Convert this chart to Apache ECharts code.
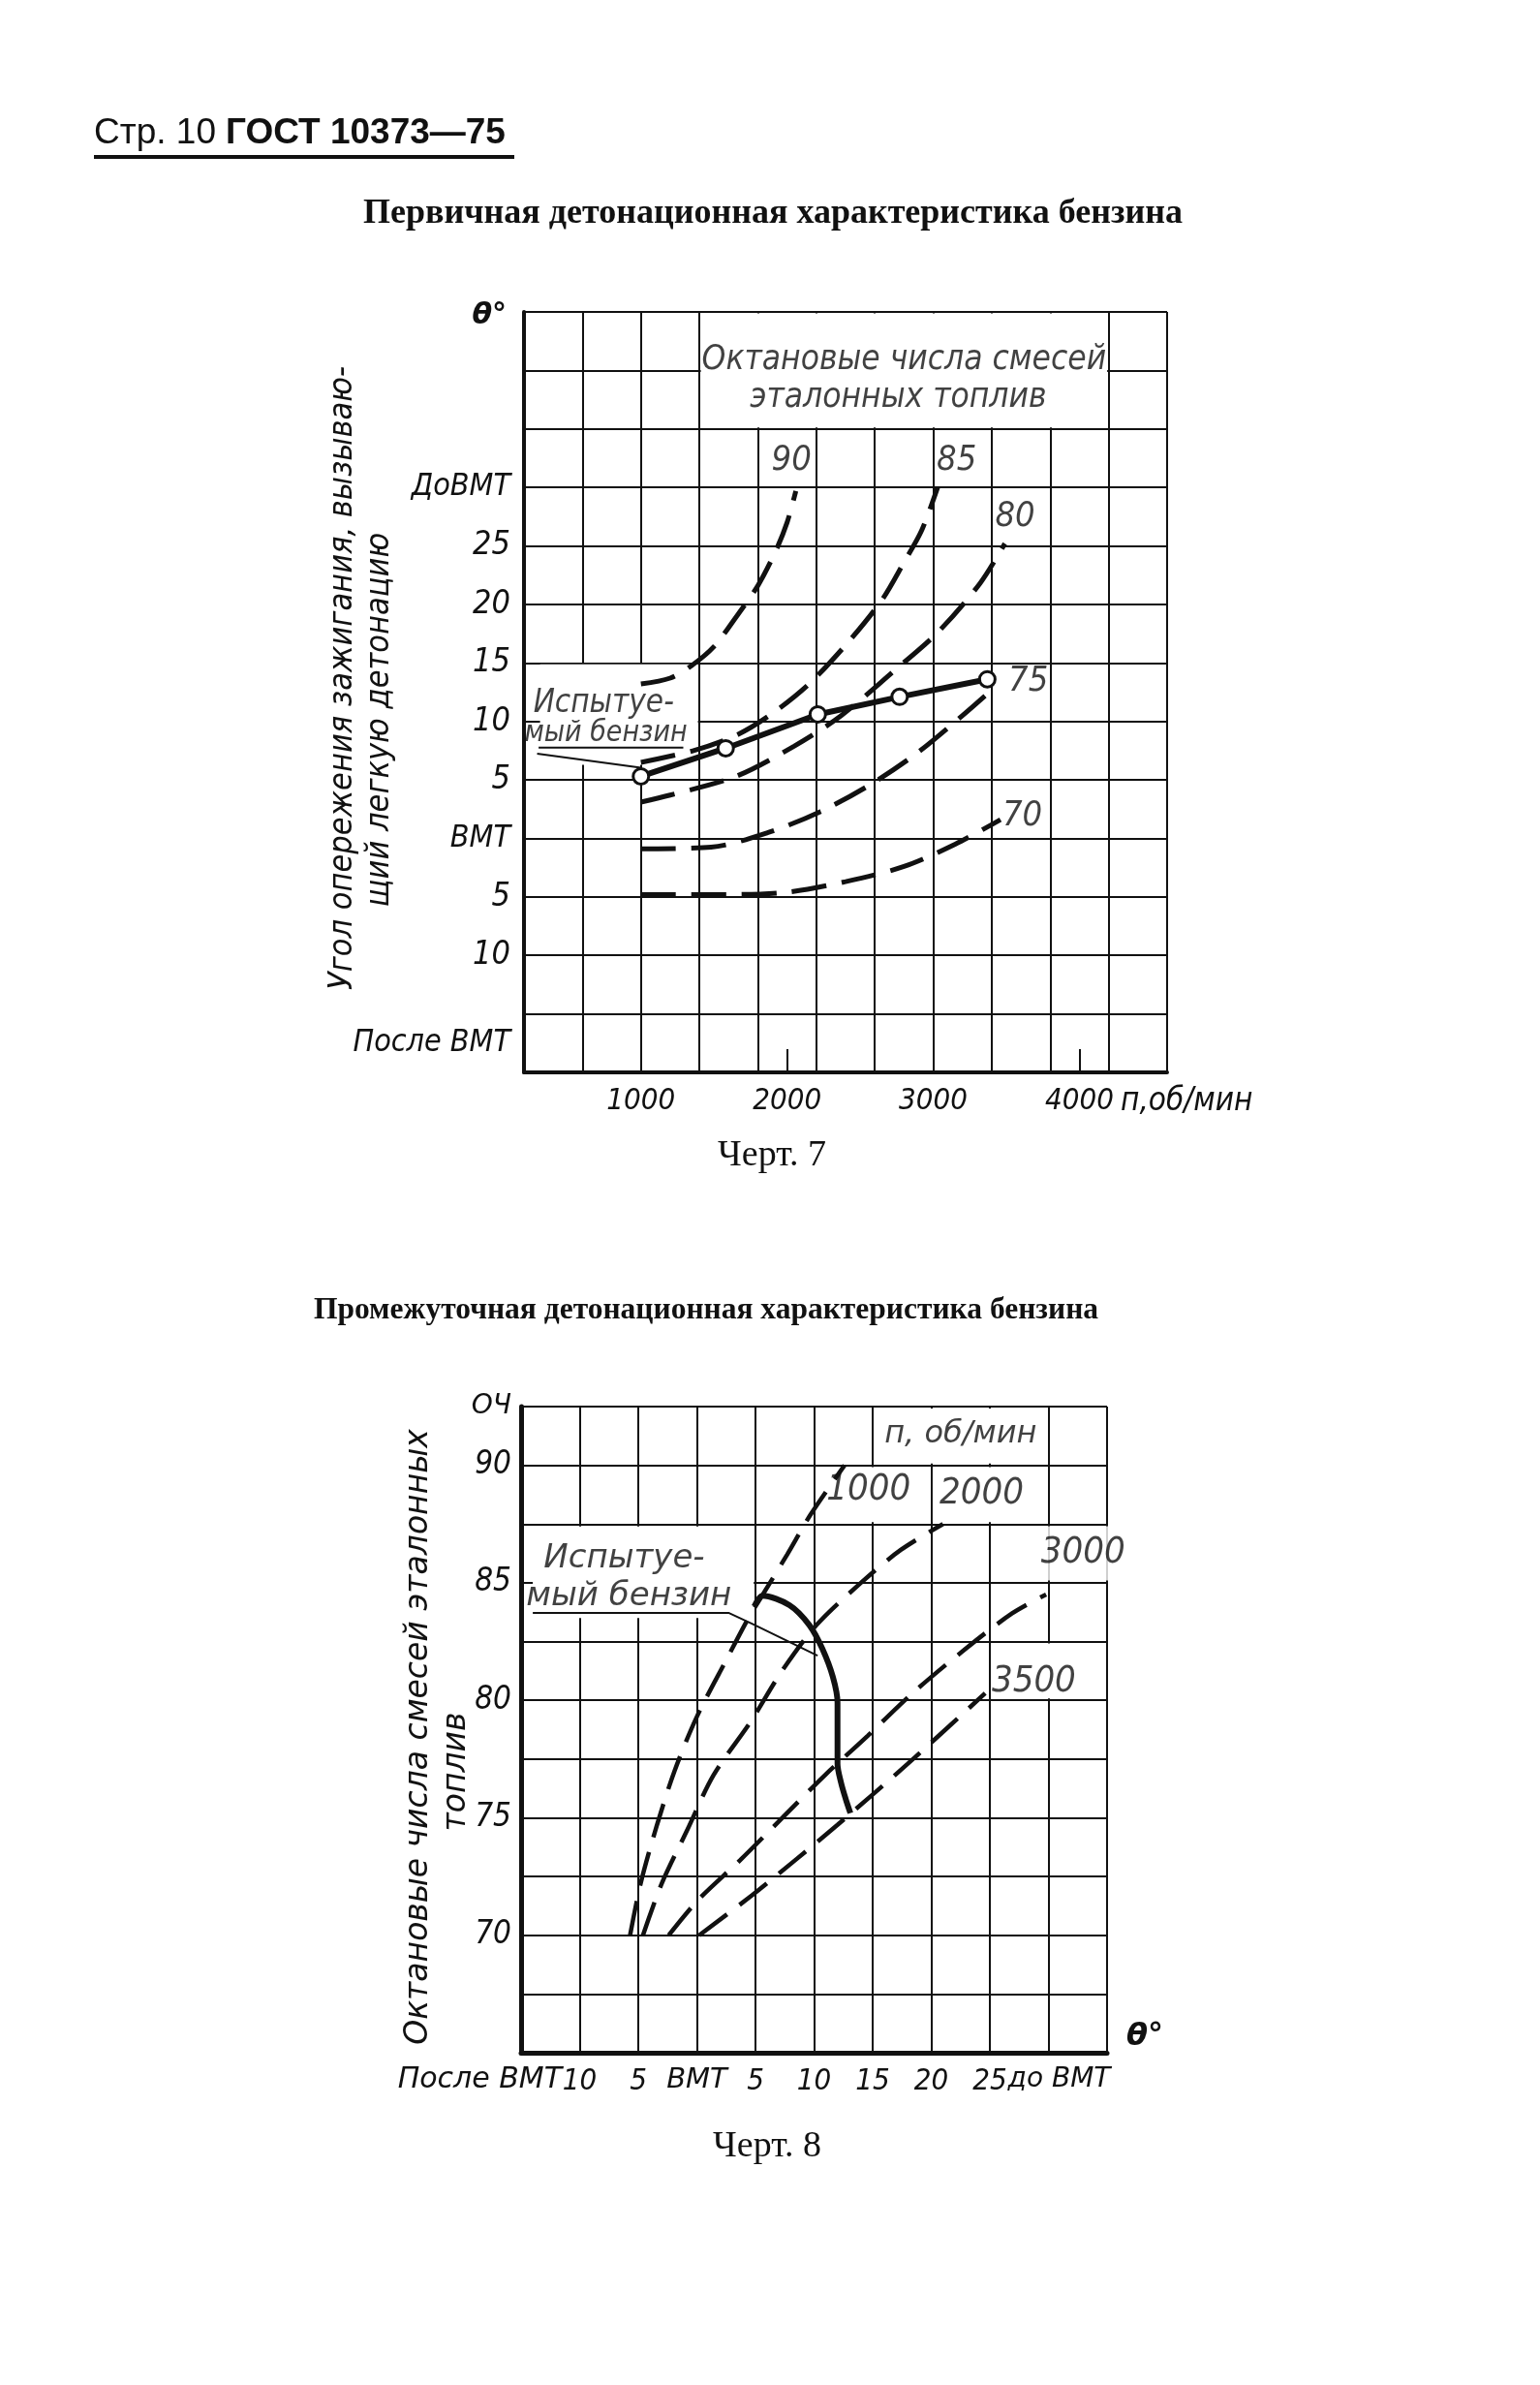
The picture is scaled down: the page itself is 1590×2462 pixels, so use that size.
<!DOCTYPE html>
<html>
<head>
<meta charset="utf-8">
<script src="https://cdn.jsdelivr.net/npm/echarts@6/dist/echarts.min.js"></script>
<style>html,body{margin:0;padding:0;background:#fff}#c{width:1590px;height:2462px}</style>
</head>
<body>
<div id="c"></div>
<script>
// ===== Черт. 7 — первичная детонационная характеристика =====
const c7XTickValues = [1000, 2000, 3000, 4000];
const c7XTickMarks = [2000, 4000];
const c7YTickValues = [30, 25, 20, 15, 10, 5, 0, -5, -10, -17.5];
const c7YTickTexts = ['ДоВМТ', '25', '20', '15', '10', '5', 'ВМТ', '5', '10', 'После ВМТ'];
const c7Oct90Rpm = [1000, 1200, 1350, 1500, 1650, 1800, 1920, 2000, 2060];
const c7Oct90Deg = [13.2, 13.7, 14.8, 16.4, 18.9, 21.6, 24.5, 27.0, 29.7];
const c7Oct85Rpm = [1000, 1360, 1650, 1890, 2150, 2420, 2650, 2800, 2920, 3030];
const c7Oct85Deg = [6.5, 7.5, 8.8, 10.6, 13.2, 16.8, 20.4, 23.6, 26.3, 30.0];
const c7Oct80Rpm = [1000, 1200, 1650, 2050, 2370, 2730, 3030, 3320, 3490];
const c7Oct80Deg = [3.1, 3.7, 5.3, 7.9, 10.5, 14.3, 17.6, 21.8, 25.2];
const c7Oct75Rpm = [1000, 1480, 1870, 2230, 2570, 2890, 3200, 3410];
const c7Oct75Deg = [-0.9, -0.75, 0.5, 2.3, 4.6, 7.3, 10.5, 12.8];
const c7Oct70Rpm = [1000, 1600, 2000, 2400, 2800, 3150, 3460];
const c7Oct70Deg = [-4.8, -4.8, -4.6, -3.7, -2.4, -0.5, 1.6];
const c7TestRpm = [1000, 1580, 2210, 2770, 3370];
const c7TestDeg = [5.3, 7.7, 10.6, 12.1, 13.6];

// ===== Черт. 8 — промежуточная детонационная характеристика =====
const c8XTickValues = [-10, -5, 0, 5, 10, 15, 20, 25, 30];
const c8XTickTexts = ['10', '5', 'ВМТ', '5', '10', '15', '20', '25', 'до ВМТ'];
const c8YTickValues = [92.5, 90, 85, 80, 75, 70];
const c8YTickTexts = ['ОЧ', '90', '85', '80', '75', '70'];
const c8N1000Deg = [-5.7, -4.8, -3.4, -1.9, 0, 2.6, 4.4, 5.5, 7.7, 9.7, 12.6];
const c8N1000Oct = [70, 72.2, 74.7, 77.0, 79.3, 81.8, 83.5, 84.4, 86.2, 87.9, 90];
const c8N2000Deg = [-4.6, -3.0, -0.8, 1.4, 4.6, 7.2, 10.2, 14.0, 17.4, 21.0];
const c8N2000Oct = [70, 72.2, 74.5, 76.8, 79.1, 81.2, 83.2, 85.0, 86.4, 87.5];
const c8N3000Deg = [-2.4, 0.1, 3.7, 7.3, 10.9, 14.6, 18.4, 22.7, 26.9, 29.8];
const c8N3000Oct = [70, 71.5, 73.2, 75.0, 76.8, 78.5, 80.3, 82.1, 83.7, 84.5];
const c8N3500Deg = [0.2, 4.7, 8.4, 12.0, 18.0, 24.6];
const c8N3500Oct = [70, 71.7, 73.2, 74.7, 77.3, 80.3];
const c8TestDeg = [4.9, 5.6, 7.9, 9.6, 10.7, 11.6, 12.0, 12.0, 12.0, 12.3, 12.7, 13.1];
const c8TestOct = [84.0, 84.45, 84.05, 83.2, 82.2, 81.0, 79.9, 78.5, 77.3, 76.5, 75.8, 75.2];

// ---------- styles ----------
const FN = '"Liberation Sans Narrow", "DejaVu Sans Condensed", sans-serif';
const FC = '"DejaVu Sans Condensed", "DejaVu Sans", sans-serif';
const FW = '"DejaVu Sans", sans-serif';
const INK = '#111';

const zip = (xs, ys) => xs.map((x, i) => [x, ys[i]]);

function dashed(name, xi, yi, xs, ys, w) {
  return {
    name, type: 'line', xAxisIndex: xi, yAxisIndex: yi,
    data: zip(xs, ys), smooth: 0.3, symbol: 'none', silent: true, z: 3,
    lineStyle: { color: INK, width: w, type: [36, 16], cap: 'butt' }
  };
}
function thin(xi, yi, pts) {
  return {
    type: 'line', xAxisIndex: xi, yAxisIndex: yi, data: pts, symbol: 'none', silent: true, z: 4,
    lineStyle: { color: INK, width: 2 }
  };
}
function lbl(name, x, y, family, size, extra) {
  return {
    name, value: [x, y],
    label: Object.assign({ show: true, position: 'inside', formatter: '{b}', color: INK,
      fontFamily: family, fontStyle: 'italic', fontSize: size }, extra || {})
  };
}
function area(x1, y1, x2, y2) {
  return [{ coord: [x1, y1] }, { coord: [x2, y2] }];
}
function richTick(text) {
  if (/^\d+$/.test(text)) return '{d|' + text + '}';
  if (text.indexOf('до') === 0) return '{e|' + text + '}';
  return '{w|' + text + '}';
}

const chart = echarts.init(document.getElementById('c'), null, { renderer: 'canvas' });

const option = {
  backgroundColor: '#fff',
  animation: false,
  grid: [
    { left: 541, top: 322, width: 664, height: 785 },
    { left: 538, top: 1452, width: 605, height: 667 }
  ],
  xAxis: [
    { // 0: Черт. 7 main
      gridIndex: 0, type: 'value', min: 200, max: 4600, interval: 400,
      axisLine: { show: true, onZero: false, lineStyle: { color: INK, width: 4 } },
      axisTick: { show: false },
      splitLine: { show: true, lineStyle: { color: INK, width: 2 } },
      axisLabel: { customValues: c7XTickValues, formatter: v => String(v), hideOverlap: false,
        color: INK, fontFamily: FN, fontStyle: 'italic', fontSize: 31, margin: 14 }
    },
    { // 1: Черт. 7 ticks + unit name
      gridIndex: 0, type: 'value', min: 200, max: 4600, position: 'bottom',
      axisLine: { show: false, onZero: false }, splitLine: { show: false }, axisLabel: { show: false },
      axisTick: { show: true, inside: true, length: 24, customValues: c7XTickMarks, lineStyle: { color: INK, width: 2 } },
      name: 'п,об/мин', nameLocation: 'end', nameGap: -48,
      nameTextStyle: { color: INK, fontFamily: FC, fontStyle: 'italic', fontSize: 33, align: 'left', verticalAlign: 'top', padding: [14, 0, 0, 0] }
    },
    { // 2: Черт. 8 main
      gridIndex: 1, type: 'value', min: -15, max: 35, interval: 5,
      axisLine: { show: true, onZero: false, lineStyle: { color: INK, width: 5 } },
      axisTick: { show: false },
      splitLine: { show: true, lineStyle: { color: INK, width: 2 } },
      axisLabel: {
        customValues: c8XTickValues, margin: 14, hideOverlap: false,
        formatter: v => richTick(c8XTickTexts[c8XTickValues.indexOf(v)]),
        rich: {
          d: { fontFamily: FN, fontStyle: 'italic', fontSize: 31, color: INK },
          w: { fontFamily: FW, fontStyle: 'italic', fontSize: 29, color: INK },
          e: { fontFamily: FW, fontStyle: 'italic', fontSize: 28, color: INK, padding: [0, 0, 0, 22] }
        }
      },
      name: 'θ°', nameLocation: 'end', nameGap: 20,
      nameTextStyle: { color: INK, fontFamily: FW, fontStyle: 'italic', fontWeight: 'bold', fontSize: 32, align: 'left', verticalAlign: 'bottom' }
    },
    { // 3: Черт. 8 left name
      gridIndex: 1, type: 'value', min: -15, max: 35, position: 'bottom',
      axisLine: { show: false, onZero: false }, splitLine: { show: false }, axisLabel: { show: false }, axisTick: { show: false },
      name: 'После ВМТ', nameLocation: 'start', nameGap: -42,
      nameTextStyle: { color: INK, fontFamily: FW, fontStyle: 'italic', fontSize: 30, align: 'right', verticalAlign: 'top', padding: [13, 0, 0, 0] }
    }
  ],
  yAxis: [
    { // 0: Черт. 7
      gridIndex: 0, type: 'value', min: -20, max: 45, interval: 5,
      axisLine: { show: true, onZero: false, lineStyle: { color: INK, width: 4 } },
      axisTick: { show: false },
      splitLine: { show: true, lineStyle: { color: INK, width: 2 } },
      axisLabel: {
        customValues: c7YTickValues, margin: 14, hideOverlap: false,
        formatter: v => richTick(c7YTickTexts[c7YTickValues.indexOf(v)]),
        rich: {
          d: { fontFamily: FN, fontStyle: 'italic', fontSize: 34, color: INK },
          w: { fontFamily: FC, fontStyle: 'italic', fontSize: 32, color: INK }
        }
      },
      name: 'θ°', nameLocation: 'end', nameGap: -4,
      nameTextStyle: { color: INK, fontFamily: FW, fontStyle: 'italic', fontWeight: 'bold', fontSize: 30, align: 'right', verticalAlign: 'middle', padding: [0, 18, 0, 0] }
    },
    { // 1: Черт. 8
      gridIndex: 1, type: 'value', min: 65, max: 92.5, interval: 2.5,
      axisLine: { show: true, onZero: false, lineStyle: { color: INK, width: 5 } },
      axisTick: { show: false },
      splitLine: { show: true, lineStyle: { color: INK, width: 2 } },
      axisLabel: {
        customValues: c8YTickValues, margin: 10, hideOverlap: false,
        formatter: v => richTick(c8YTickTexts[c8YTickValues.indexOf(v)]),
        rich: {
          d: { fontFamily: FN, fontStyle: 'italic', fontSize: 33, color: INK },
          w: { fontFamily: FW, fontStyle: 'italic', fontSize: 28, color: INK }
        }
      }
    }
  ],
  series: [
    { // Черт. 7 annotations + white boxes
      type: 'scatter', xAxisIndex: 0, yAxisIndex: 0, symbolSize: 0, silent: true, clip: false, z: 2,
      data: [
        lbl('Октановые числа смесей', 2800, 40.9, FC, 35),
        lbl('эталонных топлив', 2760, 37.6, FC, 35),
        lbl('90', 2030, 32.3, FN, 36),
        lbl('85', 3160, 32.3, FN, 36),
        lbl('80', 3560, 27.5, FN, 36),
        lbl('75', 3650, 13.4, FN, 36),
        lbl('70', 3610, 1.9, FN, 36),
        lbl('Испытуе-', 745, 11.5, FC, 33),
        lbl('мый бензин', 760, 8.95, FC, 30)
      ],
      markArea: {
        silent: true, label: { show: false },
        itemStyle: { color: '#fff', opacity: 1, borderWidth: 0 },
        data: [area(1410, 35.12, 4190, 44.88), area(310, 6.3, 1390, 14.88)]
      }
    },
    { // Черт. 8 annotations + white boxes
      type: 'scatter', xAxisIndex: 2, yAxisIndex: 1, symbolSize: 0, silent: true, clip: false, z: 2,
      data: [
        lbl('п, об/мин', 22.5, 91.3, FW, 32),
        lbl('1000', 14.65, 88.95, FN, 38),
        lbl('2000', 24.3, 88.8, FN, 38),
        lbl('3000', 32.95, 86.25, FN, 38, { backgroundColor: '#fff', lineHeight: 56, padding: [0, 2, 0, 2] }),
        lbl('3500', 28.75, 80.8, FN, 38),
        lbl('Испытуе-', -6.2, 86.0, FW, 34),
        lbl('мый бензин', -5.8, 84.4, FW, 34)
      ],
      markArea: {
        silent: true, label: { show: false },
        itemStyle: { color: '#fff', opacity: 1, borderWidth: 0 },
        data: [
          area(-14.0, 83.5, 4.85, 87.4),
          area(15.12, 90.08, 29.88, 92.42),
          area(10.12, 87.58, 19.88, 89.92),
          area(20.12, 87.58, 29.88, 89.92),
          area(25.12, 80.08, 34.88, 82.42)
        ]
      }
    },
    dashed('90', 0, 0, c7Oct90Rpm, c7Oct90Deg, 5),
    dashed('85', 0, 0, c7Oct85Rpm, c7Oct85Deg, 5),
    dashed('80', 0, 0, c7Oct80Rpm, c7Oct80Deg, 5),
    dashed('75', 0, 0, c7Oct75Rpm, c7Oct75Deg, 5),
    dashed('70', 0, 0, c7Oct70Rpm, c7Oct70Deg, 5),
    thin(0, 0, [[300, 7.75], [1290, 7.75]]),
    thin(0, 0, [[290, 7.25], [1000, 6.05]]),
    {
      name: 'Испытуемый бензин', type: 'line', xAxisIndex: 0, yAxisIndex: 0,
      data: zip(c7TestRpm, c7TestDeg), symbol: 'circle', symbolSize: 16, showSymbol: true, silent: true, z: 5,
      lineStyle: { color: INK, width: 6 },
      itemStyle: { color: '#fff', borderColor: INK, borderWidth: 3 }
    },
    dashed('1000', 2, 1, c8N1000Deg, c8N1000Oct, 4.5),
    dashed('2000', 2, 1, c8N2000Deg, c8N2000Oct, 4.5),
    dashed('3000', 2, 1, c8N3000Deg, c8N3000Oct, 4.5),
    dashed('3500', 2, 1, c8N3500Deg, c8N3500Oct, 4.5),
    thin(2, 1, [[-14.0, 83.72], [2.7, 83.72], [4.7, 83.26], [10.3, 81.9]]),
    {
      name: 'Испытуемый бензин (ОЧ)', type: 'line', xAxisIndex: 2, yAxisIndex: 1,
      data: zip(c8TestDeg, c8TestOct), smooth: 0.3, symbol: 'none', silent: true, z: 5,
      lineStyle: { color: INK, width: 6 }
    }
  ],
  graphic: [
    { type: 'text', x: 97, y: 138, style: {
        text: '{a|Стр. 10}   {b|ГОСТ 10373—75}', verticalAlign: 'middle', fill: INK,
        rich: {
          a: { fontFamily: '"Liberation Sans", sans-serif', fontSize: 37, fill: INK },
          b: { fontFamily: '"Liberation Sans", sans-serif', fontWeight: 'bold', fontSize: 37, fill: INK }
        } } },
    { type: 'rect', shape: { x: 97, y: 160, width: 434, height: 4 }, style: { fill: INK } },
    { type: 'text', x: 798, y: 221, style: { text: 'Первичная детонационная характеристика бензина',
        font: 'bold 36px "Liberation Serif", serif', align: 'center', verticalAlign: 'middle', fill: INK } },
    { type: 'text', x: 797, y: 1193, style: { text: 'Черт. 7',
        font: '38px "Liberation Serif", serif', align: 'center', verticalAlign: 'middle', fill: INK } },
    { type: 'text', x: 729, y: 1353, style: { text: 'Промежуточная детонационная характеристика бензина',
        font: 'bold 31.5px "Liberation Serif", serif', align: 'center', verticalAlign: 'middle', fill: INK } },
    { type: 'text', x: 792, y: 2216, style: { text: 'Черт. 8',
        font: '38px "Liberation Serif", serif', align: 'center', verticalAlign: 'middle', fill: INK } },
    { type: 'text', x: 354, y: 700, rotation: Math.PI / 2, style: { text: 'Угол опережения зажигания, вызываю-',
        font: 'italic 34px "DejaVu Sans Condensed", "DejaVu Sans", sans-serif', align: 'center', verticalAlign: 'middle', fill: INK } },
    { type: 'text', x: 392, y: 743, rotation: Math.PI / 2, style: { text: 'щий легкую детонацию',
        font: 'italic 34px "DejaVu Sans Condensed", "DejaVu Sans", sans-serif', align: 'center', verticalAlign: 'middle', fill: INK } },
    { type: 'text', x: 432, y: 1793, rotation: Math.PI / 2, style: { text: 'Октановые числа смесей эталонных',
        font: 'italic 33px "DejaVu Sans", sans-serif', align: 'center', verticalAlign: 'middle', fill: INK } },
    { type: 'text', x: 471, y: 1829, rotation: Math.PI / 2, style: { text: 'топлив',
        font: 'italic 33px "DejaVu Sans", sans-serif', align: 'center', verticalAlign: 'middle', fill: INK } }
  ]
};

chart.setOption(option);
</script>
</body>
</html>
